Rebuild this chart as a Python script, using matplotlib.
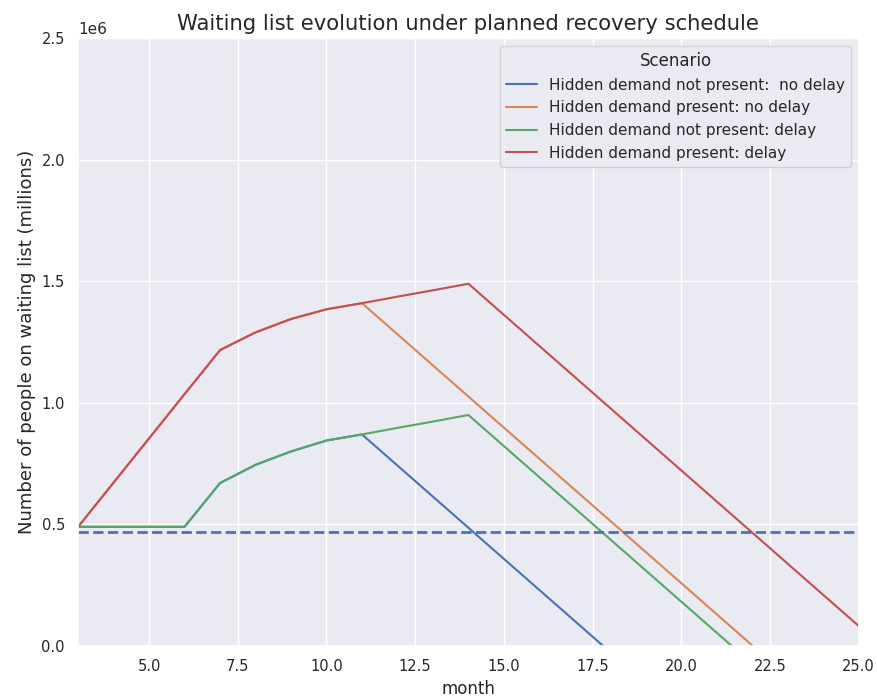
import matplotlib
matplotlib.use("Agg")
import matplotlib.pyplot as plt
import seaborn as sns

sns.set_theme(style="darkgrid")

# monthly waiting list (people)
months = list(range(3, 26))
present_delay = [490000, 672000, 854000, 1036000, 1217000, 1290000, 1345000, 1385000, 1410000,
                 1437000, 1463000, 1490000, 1362000, 1234000, 1106000, 978000, 850000, 722000,
                 594000, 466000, 338000, 210000, 82000]
present_nodelay = [490000, 672000, 854000, 1036000, 1217000, 1290000, 1345000, 1385000, 1410000,
                   1282000, 1154000, 1026000, 898000, 770000, 642000, 514000, 386000, 258000,
                   130000, 2000]
notpresent_delay = [490000, 490000, 490000, 490000, 670000, 745000, 800000, 845000, 870000,
                    897000, 923000, 950000, 822000, 694000, 566000, 438000, 310000, 182000,
                    54000, -74000]
notpresent_nodelay = [490000, 490000, 490000, 490000, 670000, 745000, 800000, 845000, 870000,
                      742000, 614000, 486000, 358000, 230000, 102000, -26000]
baseline = 470000

fig = plt.figure(figsize=(8.78, 6.96), dpi=100)
ax = fig.add_axes([0.089, 0.072, 0.889, 0.873])

ax.plot(months[:len(notpresent_nodelay)], notpresent_nodelay, color="C0",
        label="Hidden demand not present:  no delay")
ax.plot(months[:len(present_nodelay)], present_nodelay, color="C1",
        label="Hidden demand present: no delay")
ax.plot(months[:len(notpresent_delay)], notpresent_delay, color="C2",
        label="Hidden demand not present: delay")
ax.plot(months[:len(present_delay)], present_delay, color="C3",
        label="Hidden demand present: delay")
ax.axhline(baseline, color="C0", linestyle="--", linewidth=2)

ax.set_xlim(3, 25)
ax.set_ylim(0, 2.5e6)
ax.set_title("Waiting list evolution under planned recovery schedule", fontsize=15.2)
ax.set_xlabel("month", fontsize=12)
ax.set_ylabel("Number of people on waiting list (millions)", fontsize=13)
ax.tick_params(labelsize=10.5)
ax.legend(title="Scenario", loc="upper right", fontsize=11, title_fontsize=12)

fig.savefig("out.png", dpi=100)
